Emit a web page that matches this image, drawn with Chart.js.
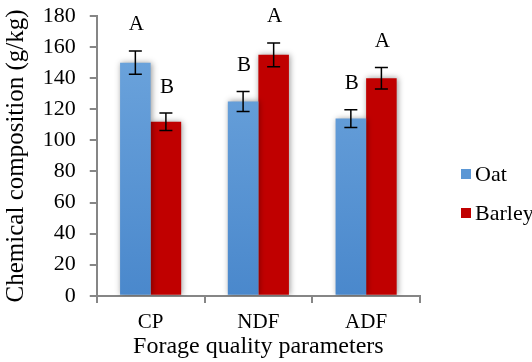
<!DOCTYPE html>
<html>
<head>
<meta charset="utf-8">
<script src="https://cdn.jsdelivr.net/npm/chart.js@4.4.0/dist/chart.umd.min.js"></script>
<style>
  html, body { margin: 0; padding: 0; background: #ffffff; }
  #wrap { width: 532px; height: 362px; position: relative; }
</style>
</head>
<body>
<div id="wrap"><canvas id="c" width="532" height="362"></canvas></div>
<script>
const categories = ['CP', 'NDF', 'ADF'];
const seriesNames = ['Oat', 'Barley'];
const oatValues = [150, 125, 114];
const barleyValues = [112, 155, 140];
const oatErrors = [7.5, 6.4, 5.7];
const barleyErrors = [5.6, 7.7, 6.9];
const oatLetters = ['A', 'B', 'B'];
const barleyLetters = ['B', 'A', 'A'];
const yTicks = [0, 20, 40, 60, 80, 100, 120, 140, 160, 180];

const FONT = "'Liberation Serif', 'Times New Roman', serif";
const BLUE = '#5b97d5';
const RED = '#c00000';

function blueGradient(context) {
  const chart = context.chart;
  const area = chart.chartArea;
  if (!area) return BLUE;
  const g = chart.ctx.createLinearGradient(0, area.top, 0, area.bottom);
  g.addColorStop(0, '#70a7de');
  g.addColorStop(1, '#4a88cc');
  return g;
}

const shadowPlugin = {
  id: 'barShadow',
  beforeDatasetsDraw(chart) {
    const ctx = chart.ctx;
    ctx.save();
    ctx.shadowColor = 'rgba(0,0,0,0.4)';
    ctx.shadowBlur = 6;
    ctx.shadowOffsetX = 1;
    ctx.shadowOffsetY = 0;
  },
  afterDatasetsDraw(chart) {
    chart.ctx.restore();
  }
};

const errorBarPlugin = {
  id: 'errorBars',
  afterDatasetsDraw(chart) {
    const ctx = chart.ctx;
    const y = chart.scales.y;
    ctx.save();
    ctx.strokeStyle = '#000000';
    ctx.lineWidth = 1.5;
    chart.data.datasets.forEach((ds, di) => {
      const meta = chart.getDatasetMeta(di);
      meta.data.forEach((bar, i) => {
        const v = ds.data[i];
        const e = ds.errors[i];
        const yTop = y.getPixelForValue(v + e);
        const yBot = y.getPixelForValue(v - e);
        const x = bar.x;
        const cap = 6.5;
        ctx.beginPath();
        ctx.moveTo(x, yTop); ctx.lineTo(x, yBot);
        ctx.moveTo(x - cap, yTop); ctx.lineTo(x + cap, yTop);
        ctx.moveTo(x - cap, yBot); ctx.lineTo(x + cap, yBot);
        ctx.stroke();
        ctx.fillStyle = '#000000';
        ctx.font = '21px ' + FONT;
        ctx.textAlign = 'center';
        ctx.textBaseline = 'middle';
        ctx.fillText(ds.letters[i], x + 1, yTop - 26);
      });
    });
    ctx.restore();
  }
};

const legendPlugin = {
  id: 'sideLegend',
  afterDraw(chart) {
    const ctx = chart.ctx;
    const area = chart.chartArea;
    const colors = [BLUE, RED];
    ctx.save();
    ctx.font = '22px ' + FONT;
    ctx.textBaseline = 'middle';
    ctx.textAlign = 'left';
    chart.data.datasets.forEach((ds, i) => {
      const bx = area.right + 41;
      const cy = area.top + 158 + i * 39;
      ctx.fillStyle = colors[i];
      ctx.fillRect(bx, cy - 5, 10, 10);
      ctx.fillStyle = '#000000';
      ctx.fillText(ds.label, bx + 14, cy + 1);
    });
    ctx.restore();
  }
};

new Chart(document.getElementById('c'), {
  type: 'bar',
  data: {
    labels: categories,
    datasets: [
      { label: seriesNames[0], data: oatValues, errors: oatErrors, letters: oatLetters,
        backgroundColor: blueGradient, borderWidth: 0 },
      { label: seriesNames[1], data: barleyValues, errors: barleyErrors, letters: barleyLetters,
        backgroundColor: RED, borderWidth: 0 }
    ]
  },
  options: {
    responsive: false,
    animation: false,
    devicePixelRatio: 1,
    layout: { padding: { left: 0, right: 112, top: 16, bottom: 0 } },
    datasets: { bar: { categoryPercentage: 0.567, barPercentage: 1.0 } },
    plugins: {
      legend: { display: false },
      tooltip: { enabled: false }
    },
    scales: {
      x: {
        offset: true,
        grid: { offset: true, drawOnChartArea: false, color: '#868686', tickLength: 14, tickBorderDash: [6, 100], lineWidth: 2 },
        border: { color: '#868686', width: 2 },
        ticks: { font: { family: FONT, size: 21, lineHeight: 1.2 }, color: '#000000', padding: 0 },
        title: { display: true, text: 'Forage quality parameters', font: { family: FONT, size: 24, lineHeight: 1.0 }, color: '#000000', padding: { top: 0, bottom: 3 } }
      },
      y: {
        min: 0, max: 180,
        afterBuildTicks(axis) { axis.ticks = yTicks.map(v => ({ value: v })); },
        grid: { drawOnChartArea: false, color: '#868686', tickLength: 21, tickBorderDash: [0, 14, 7, 100], lineWidth: 2 },
        border: { color: '#868686', width: 2 },
        ticks: { font: { family: FONT, size: 22 }, color: '#000000', padding: 0, autoSkip: false },
        title: { display: true, text: 'Chemical composition (g/kg)', font: { family: FONT, size: 25, lineHeight: 1.15 }, color: '#000000', padding: { top: 2, bottom: 12 } }
      }
    }
  },
  plugins: [shadowPlugin, errorBarPlugin, legendPlugin]
});
</script>
</body>
</html>
